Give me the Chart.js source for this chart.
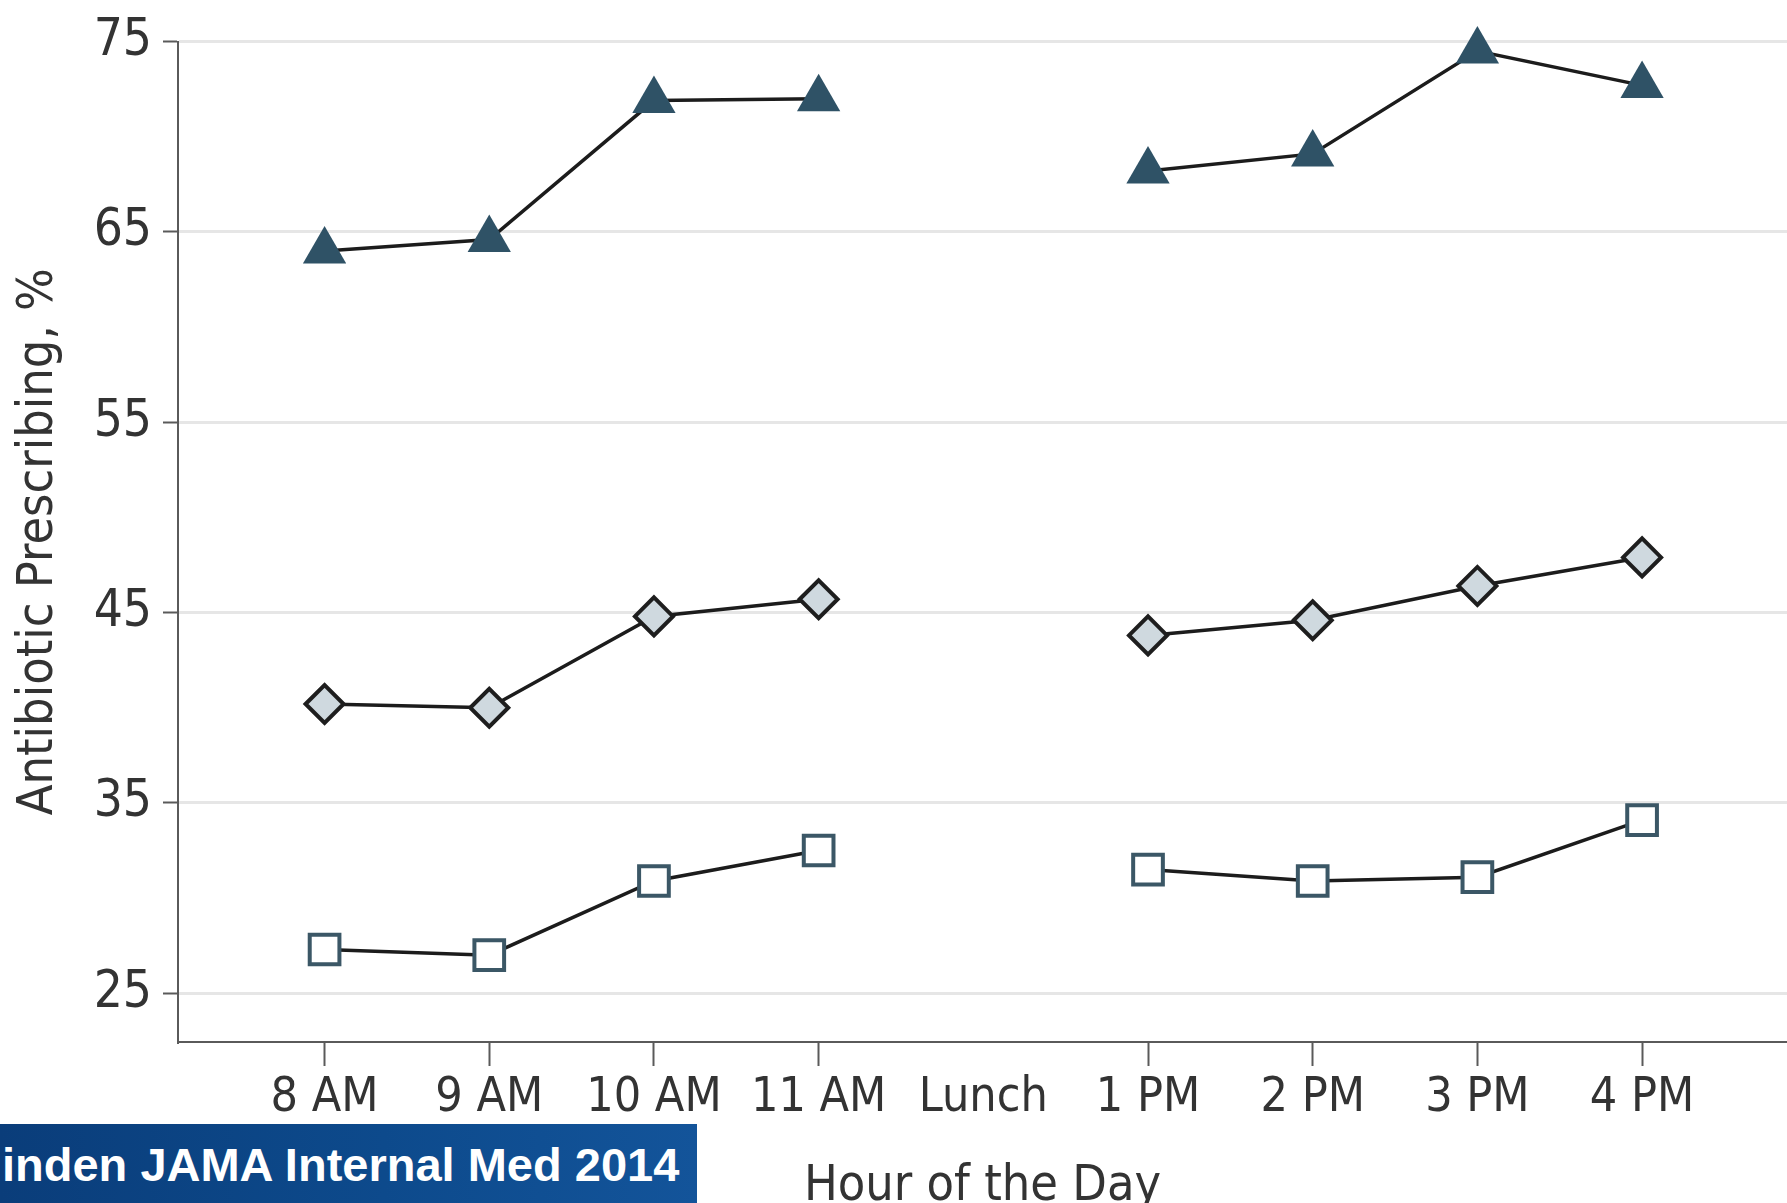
<!DOCTYPE html>
<html>
<head>
<meta charset="utf-8">
<script src="https://cdn.jsdelivr.net/npm/chart.js@4/dist/chart.umd.min.js"></script>
<style>
  html, body { margin: 0; padding: 0; background: #ffffff; overflow: hidden; }
  #wrap { position: relative; width: 1787px; height: 1203px; }
  #banner {
    position: absolute; left: 0; top: 1124px; width: 697px; height: 79px;
    background: linear-gradient(90deg, #0a3d7a 0%, #0d4a8c 55%, #13549a 100%);
    color: #ffffff; font-family: "Liberation Sans", Arial, sans-serif; font-weight: bold;
    font-size: 47px; line-height: 82px; white-space: nowrap; overflow: hidden;
    padding-left: 2px; box-sizing: border-box;
  }
</style>
</head>
<body>
<div id="wrap">
  <canvas id="chart_antibioticByHour"></canvas>
  <div id="banner">inden JAMA Internal Med 2014</div>
</div>
<script>
// values
const hourLabels = ['8 AM', '9 AM', '10 AM', '11 AM', 'Lunch', '1 PM', '2 PM', '3 PM', '4 PM'];
const triangleValues = [64.0, 64.6, 71.9, 72.0, null, 68.2, 69.1, 74.5, 72.7];
const diamondValues = [40.2, 40.0, 44.8, 45.7, null, 43.8, 44.6, 46.4, 47.9];
const squareValues = [27.3, 27.0, 30.9, 32.5, null, 31.5, 30.9, 31.1, 34.1];
const yTicks = [25, 35, 45, 55, 65, 75];

const condensed = '"Liberation Sans Narrow", "DejaVu Sans Condensed", "Roboto", sans-serif';

function toPoints(values) {
    return values.map((v, i) => ({ x: i, y: v }));
}

var chart_antibioticByHour = new Chart(document.getElementById('chart_antibioticByHour'), {
    type: 'line',
    data: {
        datasets: [
            {
                label: 'Triangles',
                data: toPoints(triangleValues),
                borderColor: '#1c1c1c',
                borderWidth: 3.5,
                pointStyle: 'triangle',
                pointRadius: 25,
                pointBackgroundColor: '#2f5266',
                pointBorderColor: '#2f5266',
                pointBorderWidth: 0,
                clip: false
            },
            {
                label: 'Diamonds',
                data: toPoints(diamondValues),
                borderColor: '#1c1c1c',
                borderWidth: 3.5,
                pointStyle: 'rectRot',
                pointRadius: 19,
                pointBackgroundColor: '#cfd9df',
                pointBorderColor: '#1e1e1e',
                pointBorderWidth: 4,
                clip: false
            },
            {
                label: 'Squares',
                data: toPoints(squareValues),
                borderColor: '#1c1c1c',
                borderWidth: 3.5,
                pointStyle: 'rect',
                pointRadius: 21,
                pointBackgroundColor: '#ffffff',
                pointBorderColor: '#3b5766',
                pointBorderWidth: 4,
                clip: false
            }
        ]
    },
    options: {
        animation: false,
        responsive: true,
        maintainAspectRatio: false,
        spanGaps: false,
        layout: {
            autoPadding: false,
            padding: { top: 35, right: 0, left: 0, bottom: 0 }
        },
        plugins: {
            legend: { display: false },
            tooltip: { enabled: false }
        },
        scales: {
            x: {
                type: 'linear',
                min: -0.89,
                max: 8.88,
                afterBuildTicks: (scale) => {
                    scale.ticks = hourLabels.map((_, i) => ({ value: i }));
                },
                afterFit: (scale) => {
                    scale.height = 161;
                },
                border: { color: '#5a5a5a', width: 2 },
                grid: {
                    drawOnChartArea: false,
                    drawTicks: true,
                    tickLength: 24,
                    tickWidth: 2,
                    tickColor: (ctx) => hourLabels[ctx.index] === 'Lunch' ? 'rgba(0,0,0,0)' : '#5a5a5a'
                },
                ticks: {
                    autoSkip: false,
                    maxRotation: 0,
                    padding: 4,
                    color: '#333333',
                    font: { family: condensed, size: 48 },
                    callback: (value) => hourLabels[value]
                },
                title: {
                    display: true,
                    text: 'Hour of the Day',
                    color: '#333333',
                    font: { family: condensed, size: 50 },
                    padding: { top: 0, bottom: -14 }
                }
            },
            y: {
                type: 'linear',
                min: 22.44,
                max: 75,
                afterBuildTicks: (scale) => {
                    scale.ticks = yTicks.map((v) => ({ value: v }));
                },
                afterFit: (scale) => {
                    scale.width = 178;
                },
                border: { color: '#5a5a5a', width: 2 },
                grid: {
                    color: '#e6e6e6',
                    lineWidth: 3,
                    tickLength: 15,
                    tickWidth: 2,
                    tickColor: '#5a5a5a'
                },
                ticks: {
                    padding: 11,
                    color: '#333333',
                    font: { family: condensed, size: 51 }
                },
                title: {
                    display: true,
                    text: 'Antibiotic Prescribing, %',
                    color: '#333333',
                    font: { family: condensed, size: 50 },
                    padding: { top: 9, bottom: 0 }
                }
            }
        }
    },
    plugins: [{
        id: 'customPlugin',
        beforeDraw: (chart, args, options) => {
            const ctx = chart.canvas.getContext('2d');
            ctx.save();
            ctx.globalCompositeOperation = 'destination-over';
            ctx.fillStyle = 'white';
            ctx.fillRect(0, 0, chart.canvas.width, chart.canvas.height);
            ctx.restore();
        }
    }]
});
</script>
</body>
</html>
